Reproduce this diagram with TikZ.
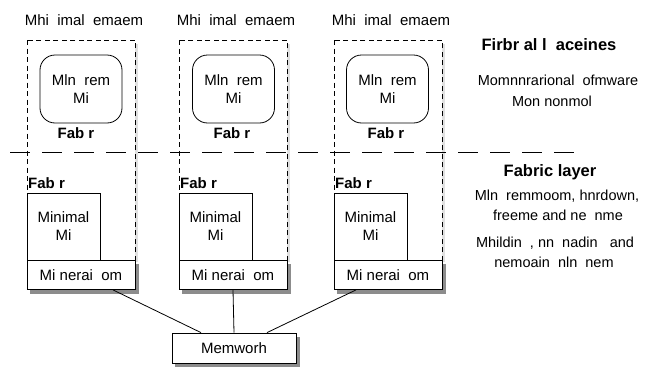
\documentclass[tikz,border=0pt]{standalone}
\usepackage{fontspec}
\setmainfont{Liberation Sans}
\begin{document}
\begin{tikzpicture}[x=1pt,y=-1pt,
  castshadow/.style={draw=black!45,line width=4pt},
  softshadow/.style={draw=black!12,line width=3pt},
  cellframe/.style={draw,dash pattern=on 5pt off 3.5pt,line width=0.8pt,fill=white},
  layerline/.style={draw,dash pattern=on 20pt off 12pt,line width=0.8pt},
  unitbox/.style={draw,line width=0.8pt,fill=white,inner sep=0pt,align=center,font=\fontsize{15}{18}\selectfont},
  mlnbox/.style={unitbox,rounded corners=15pt,minimum width=82pt,minimum height=68pt},
  minbox/.style={unitbox,minimum width=73pt,minimum height=67pt},
  basebox/.style={unitbox,minimum width=108pt,minimum height=29pt},
  title/.style={font=\fontsize{15}{18}\selectfont},
  fab/.style={font=\fontsize{15}{18}\selectfont\bfseries,inner sep=1pt},
  heading/.style={font=\fontsize{16.5}{20}\selectfont\bfseries},
  note/.style={font=\fontsize{14.5}{18}\selectfont}]
\useasboundingbox (0,0) rectangle (649,367);

% Shadows of frames and boxes
\draw[softshadow] (136.5,44) -- (136.5,262);
\draw[softshadow] (288.5,44) -- (288.5,262);
\draw[softshadow] (443.5,44) -- (443.5,262);
\draw[castshadow] (30,291.5) -- (137,291.5) -- (137,264);
\draw[castshadow] (182,291.5) -- (289,291.5) -- (289,264);
\draw[castshadow] (337,291.5) -- (444,291.5) -- (444,264);
\draw[castshadow] (175,364.5) -- (298,364.5) -- (298,337);

% Dashed frames of the three columns
\draw[cellframe] (27,40) rectangle (135,262);
\draw[cellframe] (179,40) rectangle (287,262);
\draw[cellframe] (334,40) rectangle (442,262);

% Layer separator
\draw[layerline] (10,152) -- (581,152);

% Column 1
\node[title] (t1) at (84,20) {Mhi\ \ imal\ \ emaem};
\node[mlnbox] (m1) at (81,89) {Mln\ \ rem\\Mi};
\node[fab] (f1) at (76,133) {Fab r};
\node[fab,anchor=west] (g1) at (27,183) {Fab r};
\node[minbox] (n1) at (63.5,226.5) {Minimal\\Mi};
\node[basebox] (b1) at (81,275) {Mi nerai\ \ om};

% Column 2
\node[title] (t2) at (236,20) {Mhi\ \ imal\ \ emaem};
\node[mlnbox] (m2) at (233.5,89) {Mln\ \ rem\\Mi};
\node[fab] (f2) at (232,133) {Fab r};
\node[fab,anchor=west] (g2) at (179,183) {Fab r};
\node[minbox] (n2) at (215.5,226.5) {Minimal\\Mi};
\node[basebox] (b2) at (233,275) {Mi nerai\ \ om};

% Column 3
\node[title] (t3) at (391,20) {Mhi\ \ imal\ \ emaem};
\node[mlnbox] (m3) at (387.5,89) {Mln\ \ rem\\Mi};
\node[fab] (f3) at (386,133) {Fab r};
\node[fab,anchor=west] (g3) at (334,183) {Fab r};
\node[minbox] (n3) at (370.5,226.5) {Minimal\\Mi};
\node[basebox] (b3) at (388,275) {Mi nerai\ \ om};

% Network box and its links
\node[unitbox,minimum width=124pt,minimum height=30pt] (mw) at (234,348) {Memworh};
\draw[line width=0.8pt] (b1.-25) -- (mw.155);
\draw[line width=0.8pt] (b2.south) -- (mw.north);
\draw[line width=0.8pt] (b3.-155) -- (mw.25);

% Legend on the right
\node[heading] (h1) at (549,45) {Firbr al l\ \ aceines};
\node[note] (s1) at (558,80) {Momnnrarional\ \ ofmware};
\node[note] (s2) at (552,101) {Mon nonmol};
\node[heading] (h2) at (550,172) {Fabric layer};
\node[note] (s3) at (557,196) {Mln\ \ remmoom, hnrdown,};
\node[note] (s4) at (558,215) {freeme and ne\ \ nme};
\node[note] (s5) at (555,243) {Mhildin\ \ , nn\ \ nadin\ \ \ and};
\node[note] (s6) at (554,262) {nemoain\ \ nln\ \ nem};
\end{tikzpicture}
\end{document}
